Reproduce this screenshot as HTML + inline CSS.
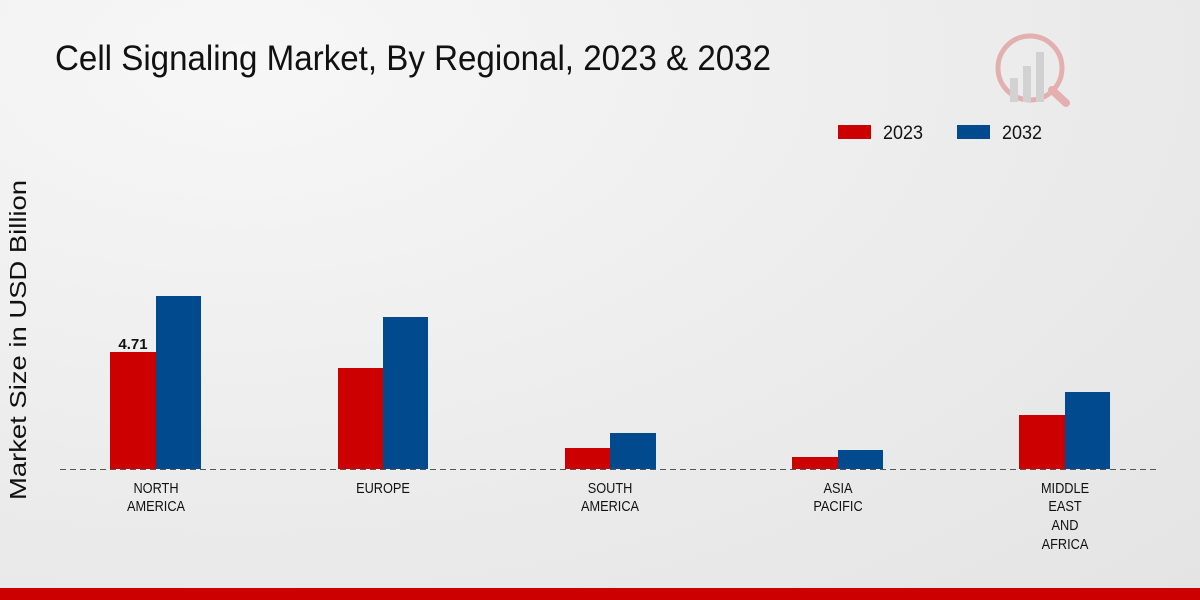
<!DOCTYPE html>
<html><head><meta charset="utf-8"><style>
html,body{margin:0;padding:0;}
body{width:1200px;height:600px;overflow:hidden;background:radial-gradient(ellipse at 20% 10%,#f7f7f7 0%,#ebebeb 60%,#e4e4e4 100%);font-family:"Liberation Sans",sans-serif;position:relative;}
</style></head><body>
<svg width="1200" height="600" viewBox="0 0 1200 600" style="position:absolute;left:0;top:0">
<text x="55" y="70" font-size="35" fill="#111" textLength="716" lengthAdjust="spacingAndGlyphs">Cell Signaling Market, By Regional, 2023 &amp; 2032</text>
<g opacity="0.25">
<circle cx="1030" cy="68" r="32" fill="none" stroke="#c00" stroke-width="5"/>
<rect x="1010" y="78" width="8" height="24" fill="#888"/>
<rect x="1023" y="66" width="8" height="36" fill="#888"/>
<rect x="1036" y="52" width="8" height="50" fill="#888"/>
<line x1="1052" y1="90" x2="1066" y2="103" stroke="#c00" stroke-width="8" stroke-linecap="round"/>
</g>
<rect x="838" y="125" width="33" height="14" fill="#cc0000"/>
<text x="883" y="139" font-size="19" fill="#111" textLength="40" lengthAdjust="spacingAndGlyphs">2023</text>
<rect x="957" y="125" width="33" height="14" fill="#004a8d"/>
<text x="1002" y="139" font-size="19" fill="#111" textLength="40" lengthAdjust="spacingAndGlyphs">2032</text>
<text transform="translate(26,340) rotate(-90)" text-anchor="middle" font-size="23" fill="#111" textLength="320" lengthAdjust="spacingAndGlyphs">Market Size in USD Billion</text>
<g>
<rect x="110" y="352" width="46" height="117" fill="#cc0000"/>
<rect x="156" y="296" width="45" height="173" fill="#004a8d"/>
<rect x="338" y="368" width="45" height="101" fill="#cc0000"/>
<rect x="383" y="317" width="45" height="152" fill="#004a8d"/>
<rect x="565" y="448" width="45" height="21" fill="#cc0000"/>
<rect x="610" y="433" width="46" height="36" fill="#004a8d"/>
<rect x="792" y="457" width="46" height="12" fill="#cc0000"/>
<rect x="838" y="450" width="45" height="19" fill="#004a8d"/>
<rect x="1019" y="415" width="46" height="54" fill="#cc0000"/>
<rect x="1065" y="392" width="45" height="77" fill="#004a8d"/>
</g>
<line x1="60" y1="469.5" x2="1160" y2="469.5" stroke="#555" stroke-width="1" stroke-dasharray="6,4"/>
<text x="133" y="349" text-anchor="middle" font-size="15" font-weight="bold" fill="#111">4.71</text>
<g font-size="15" fill="#111" text-anchor="middle">
<g transform="translate(156,0) scale(0.85,1)"><text x="0" y="493">NORTH</text><text x="0" y="511">AMERICA</text></g>
<g transform="translate(383,0) scale(0.85,1)"><text x="0" y="493">EUROPE</text></g>
<g transform="translate(610,0) scale(0.85,1)"><text x="0" y="493">SOUTH</text><text x="0" y="511">AMERICA</text></g>
<g transform="translate(838,0) scale(0.85,1)"><text x="0" y="493">ASIA</text><text x="0" y="511">PACIFIC</text></g>
<g transform="translate(1065,0) scale(0.85,1)"><text x="0" y="493">MIDDLE</text><text x="0" y="511">EAST</text><text x="0" y="530">AND</text><text x="0" y="549">AFRICA</text></g>
</g>
<rect x="0" y="588" width="1200" height="12" fill="#cc0000"/>
</svg>
</body></html>
